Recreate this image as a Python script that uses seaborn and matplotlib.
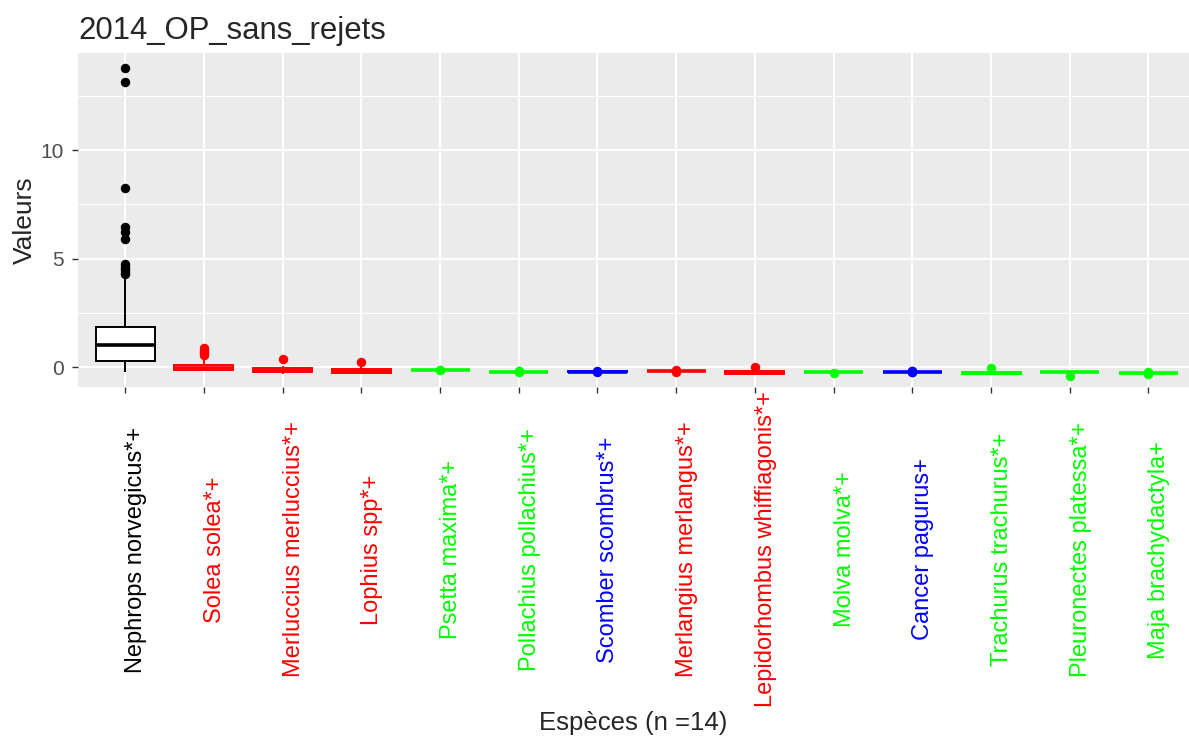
import numpy as np
import pandas as pd
import matplotlib
matplotlib.use("Agg")
import matplotlib.pyplot as plt
import seaborn as sns

# species (x axis) and the colour used for each one
species = [
    "Nephrops norvegicus*+", "Solea solea*+", "Merluccius merluccius*+", "Lophius spp*+",
    "Psetta maxima*+", "Pollachius pollachius*+", "Scomber scombrus*+", "Merlangius merlangus*+",
    "Lepidorhombus whiffiagonis*+", "Molva molva*+", "Cancer pagurus+", "Trachurus trachurus*+",
    "Pleuronectes platessa*+", "Maja brachydactyla+",
]
colors = ["black", "red", "red", "red", "#00FF00", "#00FF00", "blue", "red",
          "red", "#00FF00", "blue", "#00FF00", "#00FF00", "#00FF00"]

# values
nephrops = [-0.23, -0.10, -0.02, 0.05, 0.10, 0.14, 0.17, 0.19, 0.21, 0.23, 0.24, 0.25, 0.26, 0.27, 0.27,
            0.28, 0.28, 0.33, 0.40, 0.47, 0.53, 0.59, 0.65, 0.71, 0.76, 0.81, 0.86, 0.90, 0.94, 0.97,
            1.00, 1.00, 1.05, 1.10, 1.16, 1.22, 1.28, 1.34, 1.40, 1.46, 1.52, 1.58, 1.64, 1.70, 1.76,
            1.81, 1.85, 1.85, 2.40, 3.10, 4.00,
            4.18, 4.28, 4.38, 4.50, 4.62, 4.75, 5.92, 6.23, 6.46, 8.23, 13.12, 13.77]
solea = [-0.20, -0.18, -0.17, -0.17, -0.16, -0.16, -0.14, -0.12, -0.10, -0.08, -0.06, -0.05,
         -0.05, -0.03, 0.00, 0.03, 0.05, 0.08, 0.08, 0.40, 0.55, 0.65, 0.75, 0.86]
merluccius = [-0.30, -0.27, -0.25, -0.25, -0.20, -0.16, -0.14, -0.10, -0.05, -0.05, 0.05, 0.37]
lophius = [-0.30, -0.28, -0.26, -0.26, -0.22, -0.19, -0.17, -0.13, -0.08, -0.08, -0.02, 0.22]
psetta = [-0.15, -0.14, -0.14, -0.14, -0.14, -0.13]
pollachius = [-0.22, -0.21, -0.21, -0.21, -0.21, -0.21, -0.20, -0.17]
scomber = [-0.22, -0.21, -0.21, -0.21, -0.21, -0.20, -0.19]
merlangius = [-0.25, -0.21, -0.20, -0.20, -0.20, -0.20, -0.19, -0.15]
lepidorhombus = [-0.33, -0.31, -0.30, -0.30, -0.27, -0.26, -0.24, -0.22, -0.20, -0.20, -0.15, 0.00]
molva = [-0.26, -0.22, -0.21, -0.21, -0.21, -0.21, -0.20, -0.20]
cancer = [-0.25, -0.23, -0.21, -0.21, -0.21, -0.21, -0.21, -0.19, -0.17]
trachurus = [-0.33, -0.31, -0.30, -0.30, -0.27, -0.26, -0.25, -0.23, -0.21, -0.21, -0.17, -0.06]
pleuronectes = [-0.40, -0.22, -0.21, -0.21, -0.21, -0.21, -0.20, -0.20]
maja = [-0.30, -0.29, -0.29, -0.29, -0.29, -0.29, -0.28, -0.22]

values = [nephrops, solea, merluccius, lophius, psetta, pollachius, scomber, merlangius,
          lepidorhombus, molva, cancer, trachurus, pleuronectes, maja]

df = pd.DataFrame({
    "species": np.repeat(species, [len(v) for v in values]),
    "value": np.concatenate(values),
})

sns.set_style("darkgrid", {"axes.facecolor": "#EBEBEB", "grid.color": "white"})
plt.rcParams["font.family"] = ["Liberation Sans", "DejaVu Sans"]

fig = plt.figure(figsize=(11.89, 7.40), dpi=100)
ax = fig.add_axes([78 / 1189, 1 - 387 / 740, (1189 - 78) / 1189, (387 - 53) / 740])

for sp, c in zip(species, colors):
    sns.boxplot(data=df[df["species"] == sp], x="species", y="value", order=species,
                color="white", linecolor=c, linewidth=1.4, width=0.75, showcaps=False,
                medianprops=dict(linewidth=2.6),
                flierprops=dict(marker="o", markerfacecolor=c, markeredgecolor=c,
                                markersize=5.8), ax=ax)

# category spacing of ~78.8 px, the panel runs past the right edge of the picture
ax.set_xlim(-0.6, (1189 - 124) / 78.8)
ax.set_ylim(-0.92, 14.47)
ax.set_yticks([0, 5, 10])
ax.set_yticks([2.5, 7.5, 12.5], minor=True)
ax.set_axisbelow(True)
ax.grid(True, which="major", color="white", linewidth=1.4)
ax.grid(True, which="minor", axis="y", color="white", linewidth=0.7)
for s in ax.spines.values():
    s.set_visible(False)

ax.tick_params(axis="y", which="major", length=4, width=1, color="#333333",
               labelsize=15, labelcolor="#4D4D4D", pad=6, left=True)
ax.tick_params(axis="x", which="major", length=4, width=1, color="#333333",
               labelsize=17, pad=(550 - 393) / 1.389, bottom=True)
ax.tick_params(which="minor", length=0)

for lab, c in zip(ax.get_xticklabels(), colors):
    lab.set_rotation(90)
    lab.set_color(c)
    lab.set_va("center")
    lab.set_ha("left")

ax.set_title("2014_OP_sans_rejets", loc="left", fontsize=22.4, pad=10)
ax.set_xlabel("Espèces (n =14)", fontsize=18.5)
ax.set_ylabel("Valeurs", fontsize=19)
ax.xaxis.label.set_va("center")
ax.xaxis.set_label_coords(0.5, (387 - 723) / 334)
ax.yaxis.label.set_va("center")
ax.yaxis.set_label_coords((25 - 78) / (1189 - 78), 0.5)

fig.savefig("out.png", dpi=100)
